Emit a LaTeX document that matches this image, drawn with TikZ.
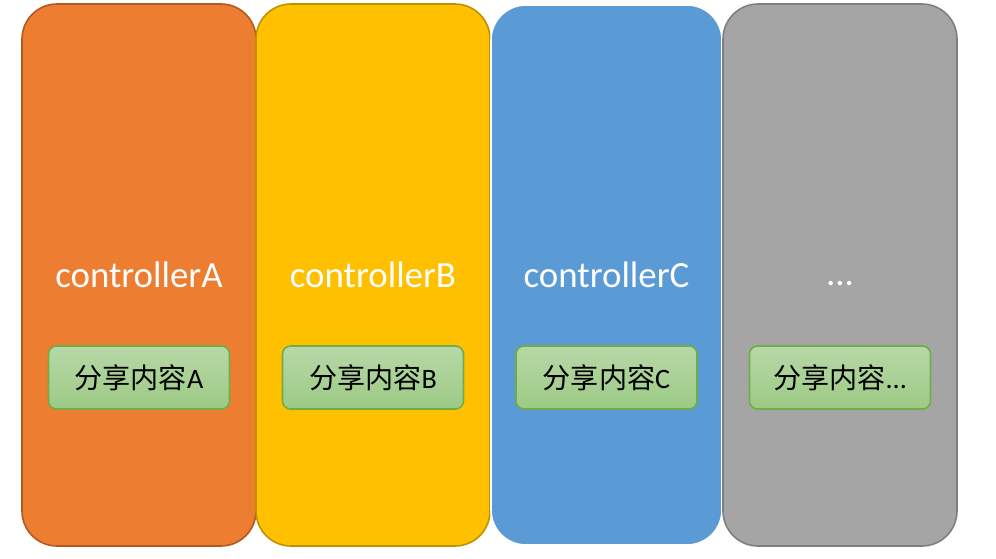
\documentclass[tikz,border=0pt]{standalone}
\usepackage{fontspec}
\setmainfont{Carlito}
\newfontfamily\cjk{Noto Sans CJK SC}
\usepackage{tikz}
\usepackage{xcolor}
\usetikzlibrary{positioning, calc}
\definecolor{cOrange}{RGB}{237,125,49}
\definecolor{cOrangeDk}{RGB}{174,90,33}
\definecolor{cGold}{RGB}{255,192,0}
\definecolor{cGoldDk}{RGB}{191,144,0}
\definecolor{cBlue}{RGB}{91,155,213}
\definecolor{cGray}{RGB}{165,165,165}
\definecolor{cGrayDk}{RGB}{127,127,127}
\definecolor{cGreenTop}{RGB}{183,216,167}
\definecolor{cGreenBot}{RGB}{156,202,132}
\definecolor{cGreenDk}{RGB}{112,173,71}
\tikzset{
	column/.style   ={rectangle, rounded corners=0.7cm, minimum width=4.68cm, minimum height=10.84cm, line width=0.9pt, inner sep=0pt, outer sep=0pt},
	ctrl/.style     ={text=white, font=\fontsize{21}{24}\selectfont},
	sharebox/.style ={rectangle, rounded corners=0.16cm, minimum width=3.62cm, minimum height=1.26cm, draw=cGreenDk, line width=0.9pt,
		top color=cGreenTop, bottom color=cGreenBot, font=\fontsize{16}{19}\selectfont, text=black},
}
\begin{document}
\begin{tikzpicture}
	\useasboundingbox (0,0) rectangle (19.92,11.16);
	% four controller columns, side by side
	\node[column, fill=cOrange, draw=cOrangeDk] (colA) at (2.78,5.66) {};
	\node[column, fill=cGold, draw=cGoldDk, right=0pt of colA] (colB) {};
	\node[column, fill=cBlue, draw=white, minimum width=4.62cm, minimum height=10.8cm, right=0.02cm of colB] (colC) {};
	\node[column, fill=cGray, draw=cGrayDk, right=0.02cm of colC] (colD) {};
	% titles
	\node[ctrl] (ctrlA) at (colA.center) {controllerA};
	\node[ctrl] (ctrlB) at (colB.center) {controllerB};
	\node[ctrl] (ctrlC) at (colC.center) {controllerC};
	\node[ctrl] (ctrlD) at ($(colD.center)+(0,-0.18)$) {...};
	% shared content boxes
	\node[sharebox] (shareA) at ($(colA.center)+(0,-2.05)$) {{\cjk 分享内容}A};
	\node[sharebox] (shareB) at ($(colB.center)+(0,-2.05)$) {{\cjk 分享内容}B};
	\node[sharebox] (shareC) at ($(colC.center)+(0,-2.05)$) {{\cjk 分享内容}C};
	\node[sharebox] (shareD) at ($(colD.center)+(0,-2.05)$) {{\cjk 分享内容}...};
\end{tikzpicture}
\end{document}
